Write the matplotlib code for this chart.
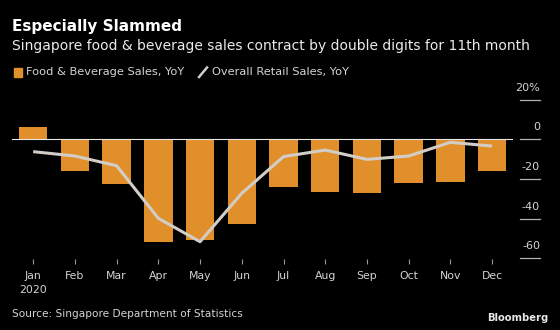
import matplotlib.pyplot as plt
from matplotlib.patches import Rectangle
from matplotlib.lines import Line2D

# Data
months = ['Jan\n2020', 'Feb', 'Mar', 'Apr', 'May', 'Jun',
          'Jul', 'Aug', 'Sep', 'Oct', 'Nov', 'Dec']
fnb_sales = [6.2, -16.1, -22.7, -51.9, -50.7, -42.8,
             -24.2, -26.4, -27.2, -22.2, -21.5, -15.8]
retail_sales = [-6.2, -8.4, -13.3, -39.8, -51.6, -27.2,
                -8.7, -5.4, -10.1, -8.4, -1.5, -3.4]
yticks = [20, 0, -20, -40, -60]
ytick_labels = ['20%', '0', '-20', '-40', '-60']

bar_color = '#e18f2b'
line_color = '#d2cdc7'
text_color = '#d4d4d4'

fig = plt.figure(figsize=(5.6, 3.3), dpi=100, facecolor='black')
ax = fig.add_axes([0.022, 0.214, 0.894, 0.49])
ax.set_facecolor('black')

x = list(range(len(months)))
ax.bar(x, fnb_sales, width=0.68, color=bar_color, zorder=2)
ax.axhline(0, color='#e6e6e6', lw=0.8, zorder=3)
ax.plot(x, retail_sales, color=line_color, lw=2.2, zorder=4,
        solid_capstyle='butt')

ax.set_xlim(-0.5, 11.5)
ax.set_ylim(-60.5, 21)
for s in ax.spines.values():
    s.set_visible(False)
ax.set_yticks([])
ax.set_xticks(x)
ax.set_xticklabels(months, color=text_color, fontsize=7.8, linespacing=1.45)
ax.tick_params(axis='x', length=3.5, width=0.8, color='#9a9a9a', pad=5)

# right-hand value axis: short lines with labels above them
for v, lab in zip(yticks, ytick_labels):
    ax.plot([1.014, 1.054], [v, v], color='#b0b0b0', lw=0.9,
            transform=ax.get_yaxis_transform(), clip_on=False)
    ax.annotate(lab, xy=(1.054, v), xycoords=('axes fraction', 'data'),
                xytext=(0, 5), textcoords='offset points',
                ha='right', va='bottom', color=text_color, fontsize=8)

# titles
fig.text(0.022, 0.919, 'Especially Slammed', color='white',
         fontsize=11, fontweight='bold', va='center')
fig.text(0.022, 0.860, 'Singapore food & beverage sales contract by double '
         'digits for 11th month', color='#ebebeb', fontsize=10, va='center')

# legend
fig.patches.append(Rectangle((14 / 560, 1 - 76.5 / 330), 8 / 560, 8 / 330,
                             transform=fig.transFigure, color=bar_color))
fig.text(26.5 / 560, 1 - 72.3 / 330, 'Food & Beverage Sales, YoY',
         color=text_color, fontsize=8.2, va='center')
fig.lines.append(Line2D([199 / 560, 207 / 560], [1 - 77 / 330, 1 - 67.5 / 330],
                        transform=fig.transFigure, color=line_color, lw=1.8))
fig.text(212 / 560, 1 - 72.3 / 330, 'Overall Retail Sales, YoY',
         color=text_color, fontsize=8.2, va='center')

# footer
fig.text(0.022, 1 - 314 / 330, 'Source: Singapore Department of Statistics',
         color=text_color, fontsize=7.6, va='center')
fig.text(548 / 560, 1 - 318 / 330, 'Bloomberg', color='#e6e6e6',
         fontsize=7.2, fontweight='bold', ha='right', va='center')

fig.savefig('out.png', dpi=100, facecolor='black')
